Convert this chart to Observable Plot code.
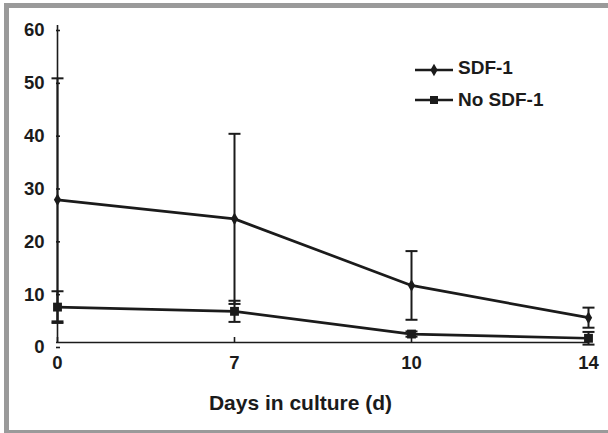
<!DOCTYPE html>
<html><head><meta charset="utf-8">
<script src="https://cdn.jsdelivr.net/npm/d3@7"></script>
<script src="https://cdn.jsdelivr.net/npm/@observablehq/plot@0.6"></script>
<style>
html,body{margin:0;padding:0;background:#fff;overflow:hidden}
#wrap{position:relative;width:608px;height:433px;overflow:hidden;font-family:"Liberation Sans",Arial,sans-serif;font-weight:bold;color:#222}
#frame{position:absolute;left:4px;top:3px;width:700px;height:432px;border-left:5px solid #9a9a9a;border-top:5px solid #9a9a9a;border-bottom:5px solid #9a9a9a;box-sizing:border-box;pointer-events:none}
#chart{position:absolute;left:0;top:0}
#legend{position:absolute;left:0;top:0;pointer-events:none}
</style></head><body>
<div id="wrap"><div id="chart"></div><div id="frame"></div><svg id="legend" width="608" height="433"></svg></div>
<script>
// ---- data ----
const days = ["0", "7", "10", "14"];
const seriesNames = ["SDF-1", "No SDF-1"];
const sdfMean = [27, 23.4, 10.8, 4.7];
const sdfErr = [23, 16.1, 6.5, 1.9];
const noSdfMean = [6.7, 5.9, 1.6, 0.8];
const noSdfErr = [3, 2, 0.5, 1.2];
const yTicks = [0, 10, 20, 30, 40, 50, 60];
const xTitle = "Days in culture (d)";

const rows = [];
days.forEach((d, i) => {
  rows.push({day: d, series: seriesNames[0], mean: sdfMean[i], lo: sdfMean[i] - sdfErr[i], hi: sdfMean[i] + sdfErr[i]});
});
days.forEach((d, i) => {
  rows.push({day: d, series: seriesNames[1], mean: noSdfMean[i], lo: noSdfMean[i] - noSdfErr[i], hi: noSdfMean[i] + noSdfErr[i]});
});

const ink = "#1b1b1b";
// horizontal cap symbol for error bars
const capSymbol = {
  draw(context, size) {
    const w = Math.sqrt(size) / 2;
    context.moveTo(-w, 0);
    context.lineTo(w, 0);
  }
};
const capR = 12 / Math.sqrt(Math.PI);

const chart = Plot.plot({
  width: 608, height: 433,
  marginLeft: 56, marginRight: 20, marginTop: 25, marginBottom: 91,
  x: {type: "point", domain: days, padding: 0},
  y: {domain: [0, 60]},
  style: {fontFamily: '"Liberation Sans", Arial, sans-serif', fontWeight: "bold", fontSize: "18.5px", color: ink, background: "transparent", overflow: "visible"},
  marks: [
    Plot.ruleY([0], {stroke: ink, strokeWidth: 1.6}),
    Plot.ruleX([days[0]], {stroke: ink, strokeWidth: 1.6}),
    Plot.axisY({ticks: yTicks, tickSize: -4, tickPadding: 16, dy: 5, label: null, stroke: ink, strokeWidth: 1.6, fill: ink}),
    Plot.axisX({tickSize: -5, tickPadding: 18, label: null, stroke: ink, strokeWidth: 1.6, fill: ink}),
    Plot.ruleX(rows, {x: "day", y1: "lo", y2: "hi", stroke: ink, strokeWidth: 2}),
    Plot.dot(rows, {x: "day", y: "hi", symbol: () => capSymbol, r: capR, stroke: ink, fill: "none", strokeWidth: 2}),
    Plot.dot(rows, {x: "day", y: "lo", symbol: () => capSymbol, r: capR, stroke: ink, fill: "none", strokeWidth: 2}),
    Plot.line(rows, {x: "day", y: "mean", z: "series", stroke: ink, strokeWidth: 2.7}),
    Plot.dot(rows.filter(d => d.series === seriesNames[0]), {x: "day", y: "mean", symbol: () => "diamond", r: 3.8, fill: ink, stroke: "none"}),
    Plot.dot(rows.filter(d => d.series === seriesNames[1]), {x: "day", y: "mean", symbol: () => "square", r: 5, fill: ink, stroke: "none"}),
    Plot.text([xTitle], {frameAnchor: "bottom", dx: -22, dy: 67, fontSize: 21, fontWeight: "bold", fill: ink})
  ]
});
document.getElementById("chart").appendChild(chart);

// ---- legend ----
const lg = d3.select("#legend");
const entries = [
  {name: seriesNames[0], sym: d3.symbolDiamond, size: 3.8 * 3.8 * Math.PI, ly: 70, ty: 67.5},
  {name: seriesNames[1], sym: d3.symbolSquare, size: 64, ly: 100, ty: 99}
];
entries.forEach(e => {
  lg.append("line").attr("x1", 415).attr("x2", 453).attr("y1", e.ly).attr("y2", e.ly).attr("stroke", ink).attr("stroke-width", 2.7);
  lg.append("path").attr("d", d3.symbol(e.sym, e.size)()).attr("transform", `translate(434,${e.ly})`).attr("fill", ink);
  lg.append("text").attr("x", 458).attr("y", e.ty).attr("dy", "0.35em").attr("font-family", '"Liberation Sans", Arial, sans-serif').attr("font-weight", "bold").attr("font-size", 19).attr("fill", ink).text(e.name);
});
</script>
</body></html>
